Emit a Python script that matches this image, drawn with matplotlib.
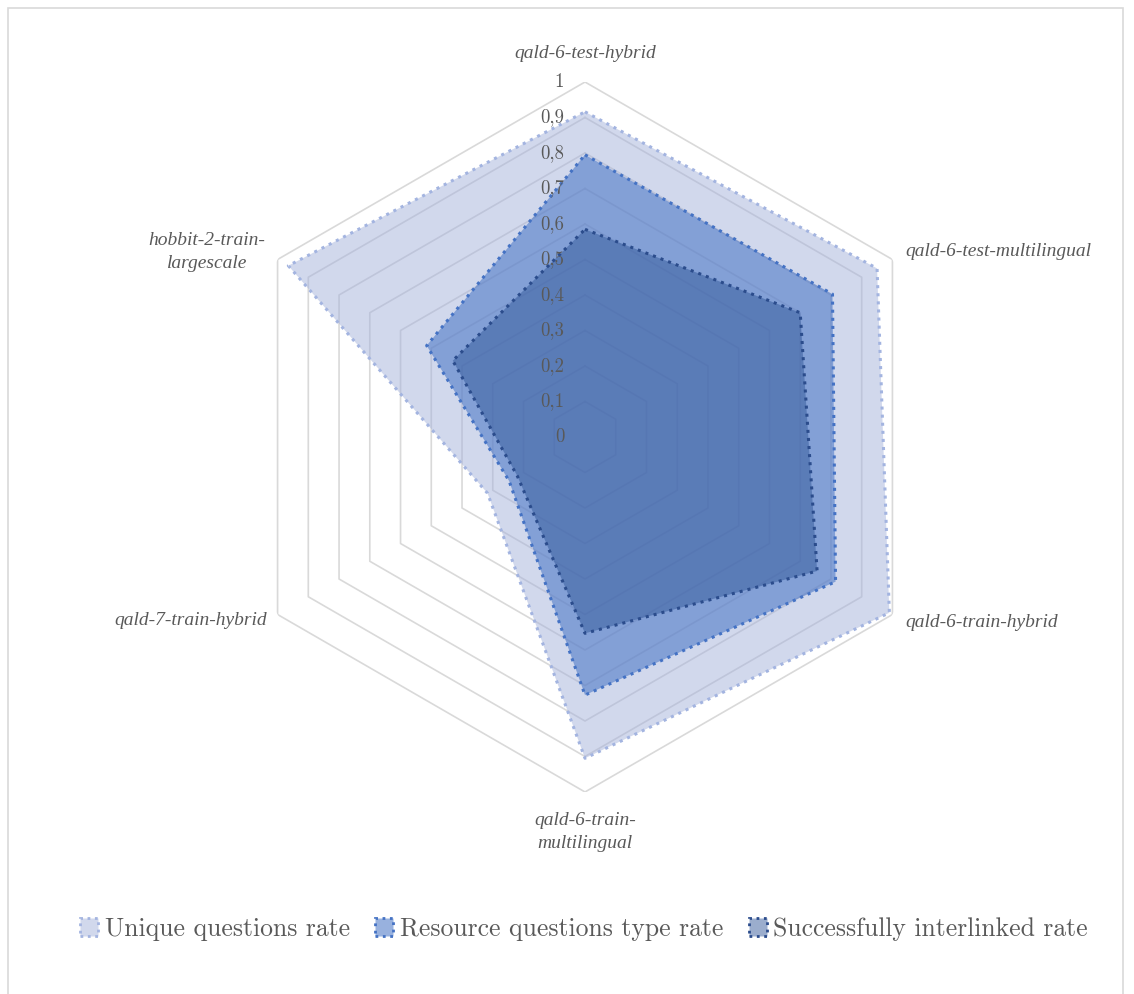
import numpy as np
import matplotlib
matplotlib.use("Agg")
from matplotlib import pyplot as plt
from matplotlib.patches import Patch, Rectangle
from matplotlib.colors import to_rgba

# data
categories = ["qald-6-test-hybrid", "qald-6-test-multilingual", "qald-6-train-hybrid",
              "qald-6-train-multilingual", "qald-7-train-hybrid", "hobbit-2-train-largescale"]
unique_rate = [0.916, 0.95, 0.99, 0.905, 0.317, 0.965]
resource_rate = [0.795, 0.805, 0.815, 0.727, 0.247, 0.515]
interlinked_rate = [0.585, 0.70, 0.755, 0.553, 0.22, 0.43]
series_names = ["Unique questions rate", "Resource questions type rate", "Successfully interlinked rate"]
ticks = [0, 0.1, 0.2, 0.3, 0.4, 0.5, 0.6, 0.7, 0.8, 0.9, 1]
tick_labels = ["0", "0,1", "0,2", "0,3", "0,4", "0,5", "0,6", "0,7", "0,8", "0,9", "1"]

W, H = 1134, 994
fig = plt.figure(figsize=(W / 100, H / 100), dpi=100)

# centre (585,437), radius 355 px
cx, cy, R = 585, 437, 355
ax = fig.add_axes([(cx - R) / W, (H - cy - R) / H, 2 * R / W, 2 * R / H], projection="polar")
ax.set_theta_offset(np.pi / 2)
ax.set_theta_direction(-1)
ax.set_ylim(0, 1)
ax.grid(False)
ax.spines["polar"].set_visible(False)
ax.set_xticks([])
ax.set_yticks([])
ax.patch.set_visible(False)

n = len(categories)
angles = np.linspace(0, 2 * np.pi, n, endpoint=False)
closed = np.append(angles, angles[0])

grey = "#595959"

# hexagon grid
for r in ticks[1:]:
    ax.plot(closed, [r] * (n + 1), color="#D9D9D9", lw=1.2, zorder=1)

fills = ["#A5B2DB", "#4472C4", "#2F5597"]
alphas = [0.5, 0.55, 0.48]
edges = ["#A3B4E0", "#4472C4", "#2B4C8C"]
for vals, fc, a, ec in zip([unique_rate, resource_rate, interlinked_rate], fills, alphas, edges):
    v = np.append(vals, vals[0])
    ax.fill(closed, v, color=fc, alpha=a, lw=0, zorder=2)
    ax.plot(closed, v, color=ec, lw=2.2, ls=":", zorder=3)

# radial tick labels
for t, lab in zip(ticks, tick_labels):
    ax.annotate(lab, (0, t), xytext=(-15, 0), textcoords="offset points",
                ha="right", va="center", fontsize=13.5, family="cmr10", color=grey, zorder=5)

# category labels
lab_font = dict(family="Liberation Serif", style="italic", fontsize=14, color=grey)
ax.text(angles[0], 1.079, categories[0], ha="center", va="center", **lab_font)
ax.text(angles[1], 1.043, categories[1], ha="left", va="center", **lab_font)
ax.text(angles[2], 1.043, categories[2], ha="left", va="center", **lab_font)
ax.text(angles[3], 1.113, "qald-6-train-\nmultilingual", ha="center", va="center",
        multialignment="center", linespacing=1.45, **lab_font)
ax.text(angles[4], 1.035, categories[4], ha="right", va="center", **lab_font)
ax.text(angles[5], 1.04, "hobbit-2-train-\nlargescale", ha="right", va="center",
        multialignment="center", linespacing=1.45, **lab_font)

# legend
handles = []
for fc, a, ec, name in zip(fills, alphas, edges, series_names):
    handles.append(Patch(facecolor=to_rgba(fc, a), edgecolor=ec, lw=2, ls=":", label=name))
fig.legend(handles=handles, loc="center", bbox_to_anchor=(584 / W, 1 - 929 / H), ncol=3,
           frameon=False, prop=dict(family="cmr10", size=18.5), labelcolor=grey,
           handlelength=0.7, handleheight=0.7, handletextpad=0.25, columnspacing=1.0)

# outer border
fig.patches.append(Rectangle((8 / W, -0.01), 1115 / W, 1 - 8 / H + 0.01, transform=fig.transFigure,
                             fill=False, edgecolor="#D9D9D9", lw=1.2))

fig.savefig("out.png", dpi=100)
